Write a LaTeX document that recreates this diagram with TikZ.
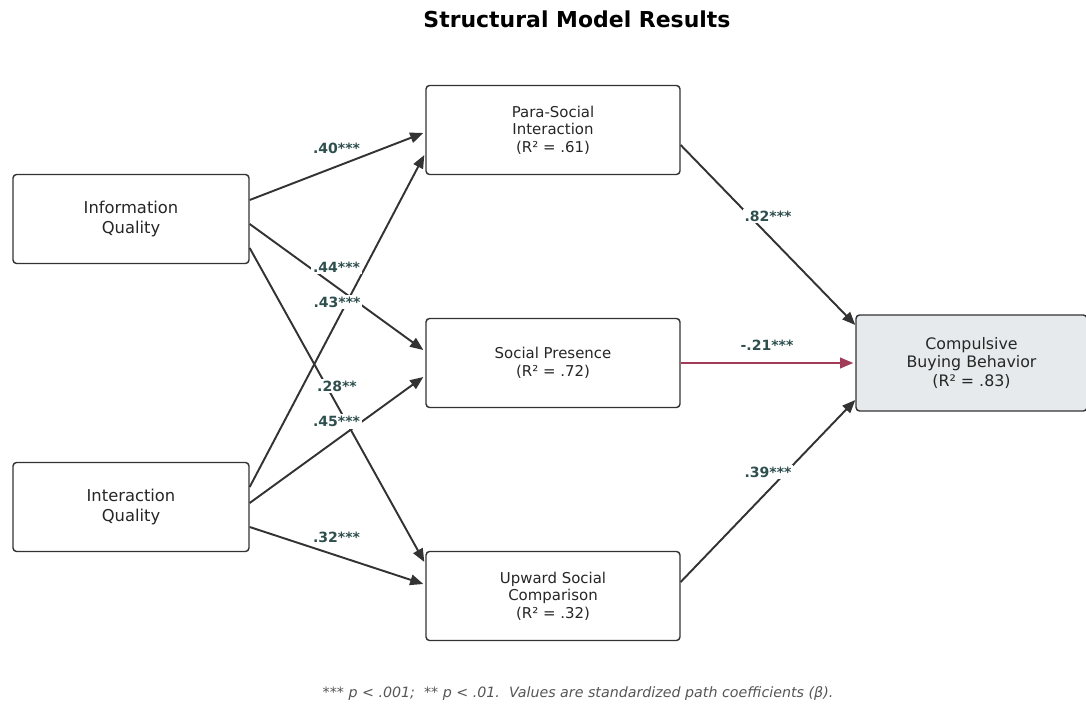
\documentclass[tikz,border=0pt]{standalone}
\usepackage{fontspec}
\setmainfont{DejaVu Sans}
\usetikzlibrary{arrows.meta, positioning, calc}
\definecolor{mEdge}{HTML}{333333}
\definecolor{mLabel}{HTML}{2F4F4F}
\definecolor{mRed}{HTML}{A23B58}
\definecolor{mFill}{HTML}{E6EAEC}
\definecolor{mNote}{HTML}{555555}

\begin{document}
\begin{tikzpicture}[x=0.02cm, y=-0.02cm,
    box/.style={draw=mEdge, line width=0.8pt, rounded corners=2pt, fill=white, align=center, inner sep=0pt, text=black!85},
    srcbox/.style={box, minimum width=4.72cm, minimum height=1.78cm, font=\fontsize{9.3}{11.3}\selectfont},
    medbox/.style={box, minimum width=5.08cm, minimum height=1.78cm, font=\fontsize{8.5}{10}\selectfont},
    arr/.style={-{Stealth[length=7.5pt, width=6pt, inset=0pt]}, line width=1.1pt, draw=mEdge},
    coef/.style={fill=white, inner sep=1pt, text=mLabel, font=\fontsize{8}{9}\bfseries\selectfont}]
    \useasboundingbox (0,0) rectangle (1086,706);
    \node[font=\fontsize{12.5}{14}\bfseries\selectfont] (title) at (577,19) {Structural Model Results};

    % constructs
    \node[srcbox] (info) at (131,219) {Information\\Quality};
    \node[srcbox] (inter) at (131,507) {Interaction\\Quality};
    \node[medbox] (psi) at (553,130) {Para-Social\\Interaction\\(R² = .61)};
    \node[medbox] (sp) at (553,363) {Social Presence\\(R² = .72)};
    \node[medbox] (usc) at (553,596) {Upward Social\\Comparison\\(R² = .32)};
    \node[box, fill=mFill, minimum width=4.62cm, minimum height=1.92cm, font=\fontsize{9}{10.5}\selectfont] (cbb) at (971.5,363) {Compulsive\\Buying Behavior\\(R² = .83)};

    % paths
    \draw[arr] ($(info.east)+(0,-19)$) -- coordinate (m40) ($(psi.west)+(-2,3)$);
    \draw[arr] ($(info.east)+(0,5)$) -- coordinate (m44) ($(sp.west)+(-2,-13)$);
    \draw[arr] ($(info.east)+(0,29)$) -- coordinate (m28) ($(usc.west)+(-1,-34)$);
    \draw[arr] ($(inter.east)+(0,-20)$) -- coordinate (m43) ($(psi.west)+(-1,25)$);
    \draw[arr] ($(inter.east)+(0,-4)$) -- coordinate (m45) ($(sp.west)+(-2,14)$);
    \draw[arr] ($(inter.east)+(0,20)$) -- coordinate (m32) ($(usc.west)+(-2,-12)$);
    \draw[arr] ($(psi.east)+(0,15)$) -- coordinate (m82) ($(cbb.west)+(0,-38)$);
    \draw[arr, draw=mRed] (sp.east) -- coordinate (m21) ($(cbb.west)+(-2,0)$);
    \draw[arr] ($(usc.east)+(0,-14)$) -- coordinate (m39) ($(cbb.west)+(0,37)$);

    % coefficients
    \node[coef] (c40) at ([yshift=0.37cm]m40) {.40***};
    \node[coef] (c44) at ([yshift=0.4cm]m44) {.44***};
    \node[coef] (c28) at ([yshift=0.38cm]m28) {.28**};
    \node[coef] (c43) at ([yshift=0.38cm]m43) {.43***};
    \node[coef] (c45) at ([yshift=0.37cm]m45) {.45***};
    \node[coef] (c32) at ([yshift=0.37cm]m32) {.32***};
    \node[coef] (c82) at ([yshift=0.38cm]m82) {.82***};
    \node[coef] (c21) at ([yshift=0.36cm]m21) {-.21***};
    \node[coef] (c39) at ([yshift=0.38cm]m39) {.39***};

    \node[font=\fontsize{8.1}{9.5}\itshape\selectfont, text=mNote] (note) at (578,694) {*** p < .001;\ \ ** p < .01.\ \ Values are standardized path coefficients (β).};
\end{tikzpicture}
\end{document}
